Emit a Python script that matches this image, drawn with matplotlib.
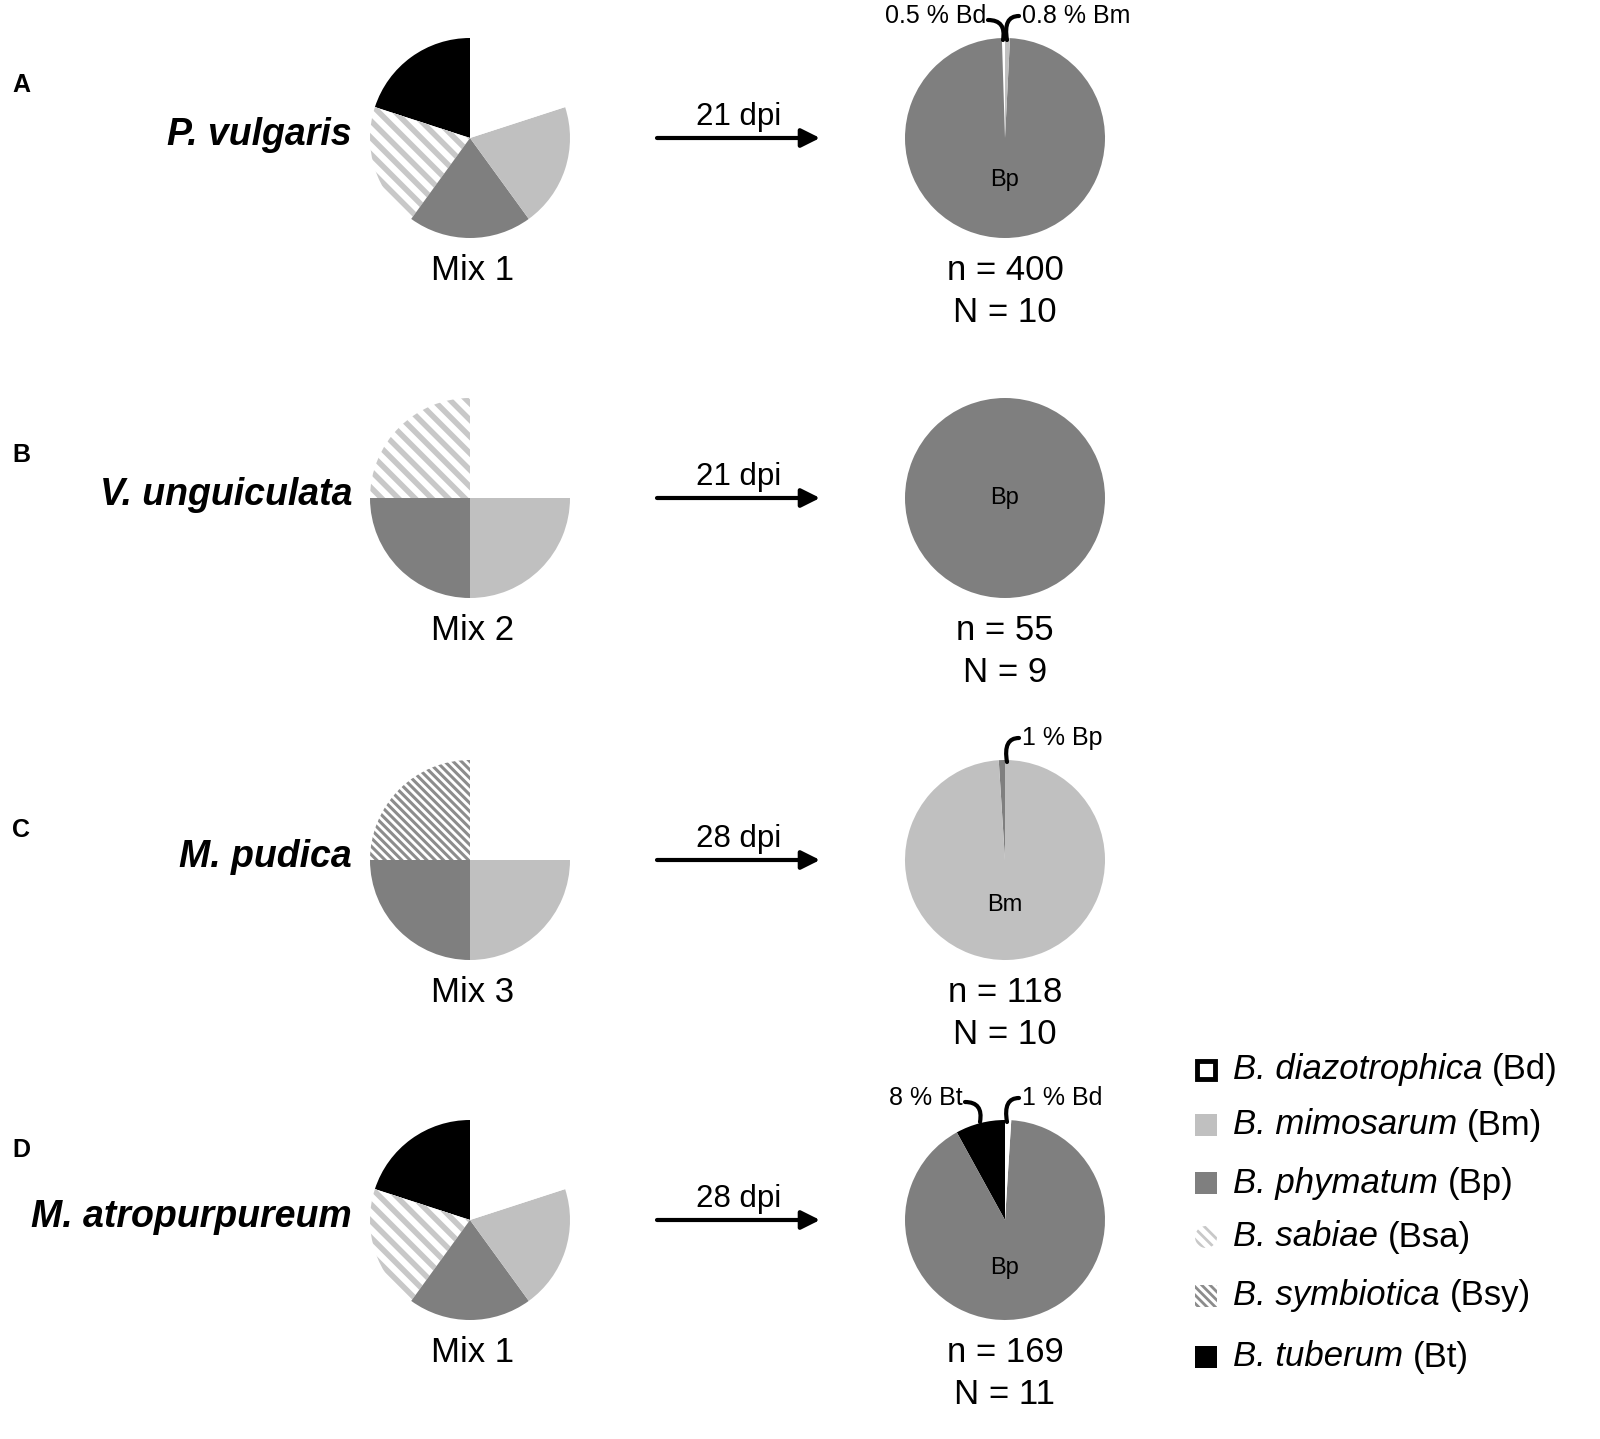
import matplotlib
matplotlib.use('Agg')
import matplotlib.pyplot as plt
from matplotlib.patches import Rectangle, Circle

plt.rcParams['font.family'] = ['Liberation Sans', 'DejaVu Sans']

W, H = 1600, 1439

# strains (legend order)
strain_codes = ['Bd', 'Bm', 'Bp', 'Bsa', 'Bsy', 'Bt']
strain_names = ['B. diazotrophica', 'B. mimosarum', 'B. phymatum',
                'B. sabiae', 'B. symbiotica', 'B. tuberum']

# panels
panel_letters = ['A', 'B', 'C', 'D']
hosts = ['P. vulgaris', 'V. unguiculata', 'M. pudica', 'M. atropurpureum']
mix_names = ['Mix 1', 'Mix 2', 'Mix 3', 'Mix 1']
dpi_labels = ['21 dpi', '21 dpi', '28 dpi', '28 dpi']
n_nodules = [400, 55, 118, 169]
n_plants = [10, 9, 10, 11]

# inoculum mixes (counter-clockwise from 12 o'clock)
mix_strains = [['Bt', 'Bsa', 'Bp', 'Bm', 'Bd'],
               ['Bsa', 'Bp', 'Bm', 'Bd'],
               ['Bsy', 'Bp', 'Bm', 'Bd'],
               ['Bt', 'Bsa', 'Bp', 'Bm', 'Bd']]
mix_shares = [[20, 20, 20, 20, 20],
              [25, 25, 25, 25],
              [25, 25, 25, 25],
              [20, 20, 20, 20, 20]]

# nodule occupancy (%)
res_strains = [['Bd', 'Bp', 'Bm'],
               ['Bp'],
               ['Bp', 'Bm'],
               ['Bt', 'Bp', 'Bd']]
res_shares = [[0.5, 98.7, 0.8],
              [100],
              [1, 99],
              [8, 91, 1]]
res_main = ['Bp', 'Bp', 'Bm', 'Bp']
# small slice callouts: (text, side)
callouts = [[('0.5 % Bd', 'left'), ('0.8 % Bm', 'right')],
            [],
            [('1 % Bp', 'right')],
            [('8 % Bt', 'left'), ('1 % Bd', 'right')]]

fill = {'Bd': 'white', 'Bm': '#c0c0c0', 'Bp': '#7f7f7f',
        'Bsa': 'white', 'Bsy': 'white', 'Bt': 'black'}
hatch = {'Bsa': ('\\\\', '#c8c8c8', 4.0), 'Bsy': ('\\\\\\\\', '#8c8c8c', 2.2)}

# layout (pixels from top)
row_y = [138, 498, 860, 1220]
letter_y = [85, 455, 830, 1150]
inner_dy = [42, 0, 45, 48]
mix_x, res_x, R = 470, 1005, 100


def Y(y):
    return H - y


def style(wedges, codes):
    for w, c in zip(wedges, codes):
        w.set_facecolor(fill[c])
        w.set_linewidth(0)
        if c in hatch:
            h, col, lw = hatch[c]
            w.set_hatch(h)
            w.set_edgecolor(col)
            if hasattr(w, 'set_hatch_linewidth'):
                w.set_hatch_linewidth(lw)
        else:
            w.set_edgecolor(fill[c])


fig = plt.figure(figsize=(W / 100, H / 100), dpi=100)
ax = fig.add_axes([0, 0, 1, 1])

plt.rcParams['hatch.linewidth'] = 4

for i in range(4):
    cy = row_y[i]
    ax.text(12, Y(letter_y[i]), panel_letters[i], fontsize=18, fontweight='bold',
            ha='left', va='center')
    ax.text(352, Y(cy - 3), hosts[i], fontsize=27, fontweight='bold', style='italic',
            ha='right', va='center')

    wedges, _ = ax.pie(mix_shares[i], startangle=90, counterclock=True,
                       center=(mix_x, Y(cy)), radius=R, frame=True)
    style(wedges, mix_strains[i])
    ax.text(mix_x + 3, Y(cy + 132), mix_names[i], fontsize=25, ha='center', va='center')

    ax.annotate('', xy=(820, Y(cy)), xytext=(657, Y(cy)),
                arrowprops=dict(arrowstyle='-|>', lw=3, mutation_scale=28, color='black',
                                shrinkA=0, shrinkB=0))
    ax.text(739, Y(cy - 21), dpi_labels[i], fontsize=22.5, ha='center', va='center')

    wedges, _ = ax.pie(res_shares[i], startangle=90, counterclock=True,
                       center=(res_x, Y(cy)), radius=R, frame=True)
    style(wedges, res_strains[i])
    ax.text(res_x, Y(cy + inner_dy[i]), res_main[i], fontsize=17, ha='center', va='center')
    ax.text(res_x, Y(cy + 132), 'n = %d' % n_nodules[i], fontsize=25, ha='center', va='center')
    ax.text(res_x, Y(cy + 174), 'N = %d' % n_plants[i], fontsize=25, ha='center', va='center')

    top = cy - R
    for txt, side in callouts[i]:
        if side == 'left':
            gap = 40 if txt.startswith('8') else 17
            tx = res_x - gap
            ax.text(tx - 2, Y(top - 22), txt, fontsize=18, ha='right', va='center')
            tip = res_x - 25 if txt.startswith('8') else res_x - 2
            ax.annotate('', xy=(tip, Y(top + 2)), xytext=(tx, Y(top - 18)),
                        arrowprops=dict(arrowstyle='-', lw=3, color='black',
                                        connectionstyle='angle3,angleA=0,angleB=80',
                                        shrinkA=0, shrinkB=0))
        else:
            tx = res_x + 14
            ax.text(tx + 3, Y(top - 22), txt, fontsize=18, ha='left', va='center')
            ax.annotate('', xy=(res_x + 2, Y(top + 2)), xytext=(tx, Y(top - 22)),
                        arrowprops=dict(arrowstyle='-', lw=3, color='black',
                                        connectionstyle='angle3,angleA=0,angleB=100',
                                        shrinkA=0, shrinkB=0))

# legend
leg_y = [1070, 1125, 1183, 1237, 1296, 1357]
for code, name, ly in zip(strain_codes, strain_names, leg_y):
    if code == 'Bd':
        p = Rectangle((1197, Y(ly + 9)), 18, 18, facecolor='white', edgecolor='black', lw=3.5)
    elif code == 'Bsa':
        p = Circle((1206, Y(ly)), 11, facecolor='white', edgecolor='#c8c8c8', lw=0,
                   hatch='\\\\\\')
    elif code == 'Bsy':
        p = Rectangle((1195, Y(ly + 11)), 22, 22, facecolor='white', edgecolor='#8c8c8c',
                      lw=0, hatch='\\\\\\\\')
    else:
        p = Rectangle((1195, Y(ly + 11)), 22, 22, facecolor=fill[code], edgecolor=fill[code],
                      lw=0)
    if hasattr(p, 'set_hatch_linewidth'):
        p.set_hatch_linewidth(2)
    ax.add_patch(p)
    t = ax.text(1233, Y(ly), name + ' ', fontsize=25, style='italic', ha='left',
                va='center')
    ax.annotate('(%s)' % code, xy=(1, 0.5), xycoords=t, fontsize=25, ha='left', va='center')

ax.set_xlim(0, W)
ax.set_ylim(0, H)
ax.set_aspect('equal')
ax.axis('off')

fig.savefig('out.png', dpi=100, facecolor='white')
